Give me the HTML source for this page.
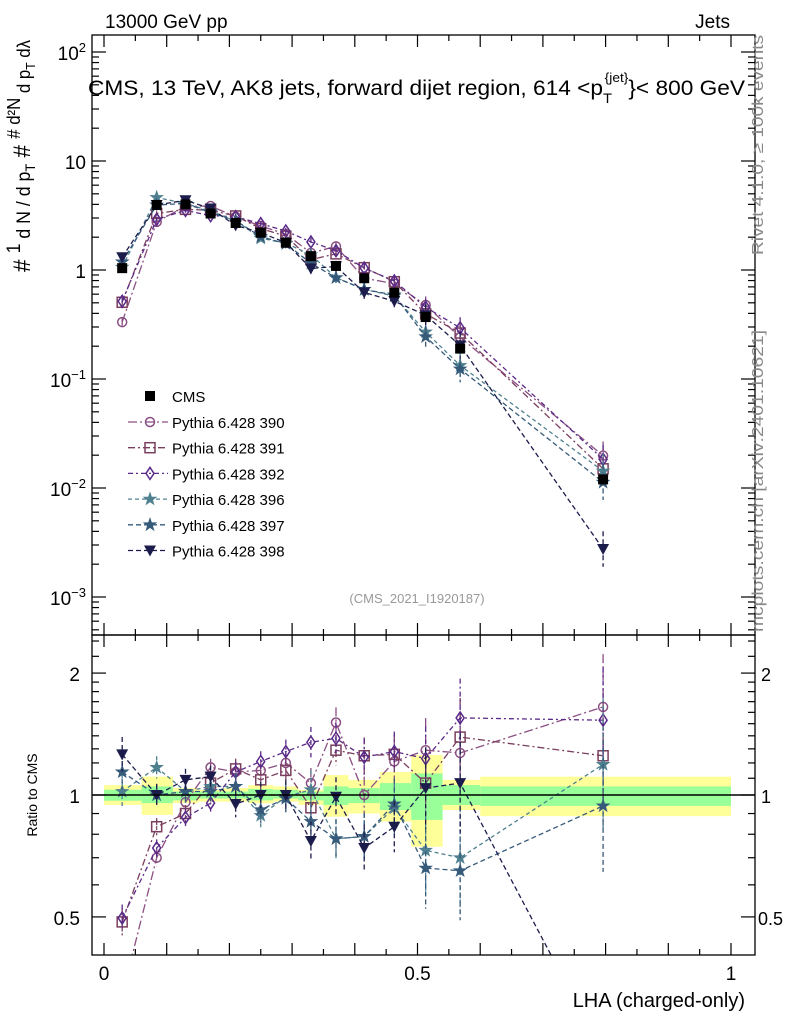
<!DOCTYPE html>
<html><head><meta charset="utf-8">
<style>
html,body{margin:0;background:#fff;overflow:hidden;width:786px;height:1024px;}
svg{display:block;font-family:"Liberation Sans",sans-serif;overflow:hidden;}
</style></head>
<body>
<svg id="c" width="786" height="1024" viewBox="0 0 786 1024">
<defs>
<clipPath id="cm"><rect x="92" y="35" width="663" height="600"/></clipPath>
<clipPath id="cr"><rect x="92" y="635" width="663" height="320"/></clipPath>
</defs>
<g id="bands" clip-path="url(#cr)"></g>
<g id="ratio" clip-path="url(#cr)"></g>
<g id="main" clip-path="url(#cm)"></g>
<line x1="92" x2="755" y1="795" y2="795" stroke="#000" stroke-width="1.5"/>
<rect x="92" y="35" width="663" height="600" fill="none" stroke="#000" stroke-width="1.3"/>
<rect x="92" y="635" width="663" height="320" fill="none" stroke="#000" stroke-width="1.3"/>
<g id="axes"></g>
<g id="legend"></g>
<text x="105" y="28" font-size="19">13000 GeV pp</text>
<text x="730" y="28" font-size="19" text-anchor="end">Jets</text>
<text x="88" y="95" font-size="21.5" textLength="657" lengthAdjust="spacingAndGlyphs">CMS, 13 TeV, AK8 jets, forward dijet region, 614 &lt;p<tspan font-size="14" dy="8">T</tspan><tspan font-size="13" dy="-21" dx="-7">{jet}</tspan><tspan dy="13">}&lt; 800 GeV</tspan></text>
<text x="417" y="603" font-size="13" fill="#999" text-anchor="middle">(CMS_2021_I1920187)</text>
<text transform="translate(763,255) rotate(-90)" font-size="16" fill="#888" textLength="220" lengthAdjust="spacingAndGlyphs">Rivet 4.1.0, ≥ 100k events</text>
<text transform="translate(763,632) rotate(-90)" font-size="16" fill="#888" textLength="302" lengthAdjust="spacingAndGlyphs">mcplots.cern.ch [arXiv:2401.10621]</text>
<text transform="translate(30,272) rotate(-90)" font-size="24" textLength="232" lengthAdjust="spacingAndGlyphs"># <tspan font-size="19" dy="-10">1</tspan><tspan font-size="19" dy="10"> d N / d p</tspan><tspan font-size="14" dy="5">T</tspan><tspan dy="-5"> # </tspan><tspan font-size="18" dy="-10">#  d²N</tspan><tspan font-size="18" dy="10"> d p</tspan><tspan font-size="13" dy="5">T</tspan><tspan font-size="18" dy="-5"> dλ</tspan></text>
<text transform="translate(37,795) rotate(-90)" font-size="14" text-anchor="middle">Ratio to CMS</text>
<text x="745" y="1007" font-size="20" text-anchor="end">LHA (charged-only)</text>
</svg>
<script>
const xs=[0.029,0.084,0.130,0.170,0.210,0.250,0.290,0.330,0.370,0.415,0.463,0.513,0.568,0.796];
const edges=[0,0.06,0.11,0.15,0.19,0.23,0.27,0.31,0.35,0.39,0.44,0.49,0.54,0.6,1.0];
const cms=[1.04,3.95,4.0,3.3,2.7,2.2,1.78,1.34,1.09,0.84,0.62,0.37,0.19,0.012];
const yelHi=[1.058,1.11,1.04,1.03,1.04,1.058,1.05,1.03,1.12,1.09,1.14,1.255,1.09,1.11];
const yelLo=[0.945,0.893,0.955,0.963,0.963,0.954,0.963,0.945,0.884,0.9,0.86,0.745,0.918,0.887];
const grnHi=[1.03,1.05,1.02,1.02,1.02,1.035,1.03,1.02,1.05,1.04,1.07,1.13,1.058,1.05];
const grnLo=[0.968,0.955,0.97,0.98,0.98,0.97,0.98,0.97,0.945,0.955,0.918,0.868,0.945,0.94];
const r390=[0.32,0.70,0.96,1.17,1.14,1.15,1.20,1.07,1.51,1.00,1.21,1.29,1.27,1.65];
const r391=[0.486,0.835,0.90,1.07,1.16,1.09,1.15,0.93,1.29,1.25,1.26,1.07,1.39,1.25];
const r392=[0.497,0.74,0.88,0.955,1.14,1.21,1.28,1.35,1.38,1.24,1.28,1.23,1.55,1.53];
const r396=[1.02,1.17,1.02,1.05,1.05,0.89,0.99,1.03,0.78,0.79,0.93,0.73,0.70,1.19];
const r397=[1.14,1.00,1.02,1.02,1.05,0.92,0.98,0.86,0.78,0.79,0.95,0.66,0.65,0.94];
const r398=[1.26,1.00,1.09,1.11,0.95,1.00,1.00,0.77,0.99,0.74,0.835,1.04,1.07,0.23];
const relErr=[0.08,0.05,0.05,0.05,0.06,0.06,0.07,0.09,0.09,0.11,0.12,0.2,0.25,0.35];
const names=["Pythia 6.428 390","Pythia 6.428 391","Pythia 6.428 392","Pythia 6.428 396","Pythia 6.428 397","Pythia 6.428 398"];

const NS="http://www.w3.org/2000/svg";
const X=v=>104+627*v;
const Ym=v=>270-109*Math.log10(v);
const Yr=v=>795-405*Math.log10(v);
function mk(t,a,p){const e=document.createElementNS(NS,t);for(const k in a)e.setAttribute(k,a[k]);p.appendChild(e);return e;}
const series=[
 {r:r390,c:"#8a4f82",m:"circle",d:"9,3,2,3"},
 {r:r391,c:"#7a3f5e",m:"square",d:"7,3,2,3"},
 {r:r392,c:"#5a2a88",m:"diamond",d:"5,3,2,3"},
 {r:r396,c:"#4f8090",m:"star",d:"4,3"},
 {r:r397,c:"#365a7a",m:"star",d:"5,3"},
 {r:r398,c:"#1c1c4c",m:"tri",d:"5,3"}];
function marker(g,type,x,y,c){
 let e;
 if(type==="circle")e=mk("circle",{cx:x,cy:y,r:4.5,fill:"none",stroke:c,"stroke-width":1.5},g);
 else if(type==="square")e=mk("rect",{x:x-5,y:y-5,width:10,height:10,fill:"none",stroke:c,"stroke-width":1.5},g);
 else if(type==="diamond")e=mk("polygon",{points:`${x},${y-6} ${x+4},${y} ${x},${y+6} ${x-4},${y}`,fill:"none",stroke:c,"stroke-width":1.5},g);
 else if(type==="star"){let p=[];for(let i=0;i<10;i++){const a=-Math.PI/2+i*Math.PI/5,rr=i%2?2.6:6.5;p.push((x+rr*Math.cos(a)).toFixed(1)+","+(y+rr*Math.sin(a)).toFixed(1));}e=mk("polygon",{points:p.join(" "),fill:c,stroke:c,"stroke-width":0.8},g);}
 else if(type==="tri")e=mk("polygon",{points:`${x-6},${y-5} ${x+6},${y-5} ${x},${y+6}`,fill:c},g);
 else e=mk("rect",{x:x-5,y:y-5,width:10,height:10,fill:c},g);
 return e;
}
const bg=document.getElementById("bands");
for(let i=0;i<edges.length-1;i++){
 const a=mk("rect",{x:X(edges[i]),y:Yr(yelHi[i]),width:X(edges[i+1])-X(edges[i]),height:Yr(yelLo[i])-Yr(yelHi[i]),fill:"#ffff99"},bg);
 
 
 const b=mk("rect",{x:X(edges[i]),y:Yr(grnHi[i]),width:X(edges[i+1])-X(edges[i]),height:Yr(grnLo[i])-Yr(grnHi[i]),fill:"#99ff99"},bg);
 
 
}
const mg=document.getElementById("main"), rg=document.getElementById("ratio");
series.forEach((s,si)=>{
 const mv=s.r.map((r,i)=>r*cms[i]);
 const pm=mk("polyline",{points:mv.map((v,i)=>X(xs[i])+","+Ym(v)).join(" "),fill:"none",stroke:s.c,"stroke-width":1.3,"stroke-dasharray":s.d},mg);
 
 
 const pr=mk("polyline",{points:s.r.map((v,i)=>X(xs[i])+","+Yr(v)).join(" "),fill:"none",stroke:s.c,"stroke-width":1.3,"stroke-dasharray":s.d},rg);
 
 
 xs.forEach((x,i)=>{
  const e=relErr[i]*(si>=3?1.3:1);
  [[mg,Ym,mv[i]],[rg,Yr,s.r[i]]].forEach(([g,Y,v])=>{
   const px=X(x);
   const l=mk("line",{x1:px,x2:px,y1:Y(v*(1+e)),y2:Y(v/(1+e)),stroke:s.c,"stroke-width":1.3,"stroke-dasharray":s.d},g);
   
   
   const m=marker(g,s.m,px,Y(v),s.c);
   
   
  });
 });
});
xs.forEach((x,i)=>{
 const m=marker(mg,"cms",X(x),Ym(cms[i]),"#000");
 
 
});
const ag=document.getElementById("axes");
function tick(x1,y1,x2,y2){const l=mk("line",{x1,y1,x2,y2,stroke:"#000","stroke-width":1.2},ag);}
function lab(x,y,t,anchor,fs,sup){const e=mk("text",{x,y,"font-size":fs||19,"text-anchor":anchor||"end"},ag);e.textContent=t;if(sup){const s=document.createElementNS(NS,"tspan");s.setAttribute("font-size","13");s.setAttribute("dy","-8");s.textContent=sup;e.appendChild(s);}}
for(let k=0;k<=20;k++){const v=k*0.05,px=X(v),len=k%2?6:12;
 tick(px,955,px,955-len);tick(px,635,px,635+len);tick(px,635,px,635-len);tick(px,35,px,35+len);}
lab(X(0),980,"0","middle");lab(X(0.5),980,"0.5","middle");lab(X(1),980,"1","middle");
for(let d=-4;d<=2;d++){for(let m=1;m<10;m++){const v=m*Math.pow(10,d),y=Ym(v);if(y<35||y>635)continue;const len=m===1?14:7;tick(92,y,92+len,y);tick(755,y,755-len,y);}}
lab(86,60,"10","end",19,"2");lab(86,169,"10","end");lab(86,278,"1","end");lab(86,387,"10","end",19,"−1");lab(86,496,"10","end",19,"−2");lab(86,605,"10","end",19,"−3");
[0.4,0.5,0.6,0.7,0.8,0.9,1,1.1,1.2,1.3,1.4,1.5,1.6,1.7,1.8,1.9,2,2.2,2.4].forEach(v=>{const y=Yr(v);if(y<635||y>955)return;const len=(v===0.5||v===1||v===2)?14:7;tick(92,y,92+len,y);tick(755,y,755-len,y);});
lab(80,681,"2");lab(80,803,"1");lab(80,925,"0.5");
lab(761,681,"2","start",18);lab(761,803,"1","start",18);lab(758,925,"0.5","start",18);
const lg=document.getElementById("legend");
const cm=marker(lg,"cms",150,396,"#000");
const ct=mk("text",{x:172,y:402,"font-size":15},lg);ct.textContent="CMS";
series.forEach((s,i)=>{const y=422+i*25.7;
 const l=mk("line",{x1:128,x2:168,y1:y,y2:y,stroke:s.c,"stroke-width":1.3,"stroke-dasharray":s.d},lg);
 const m=marker(lg,s.m,150,y,s.c);
 const t=mk("text",{x:172,y:y+6,"font-size":15},lg);t.textContent=names[i];
});
</script>
</body></html>
